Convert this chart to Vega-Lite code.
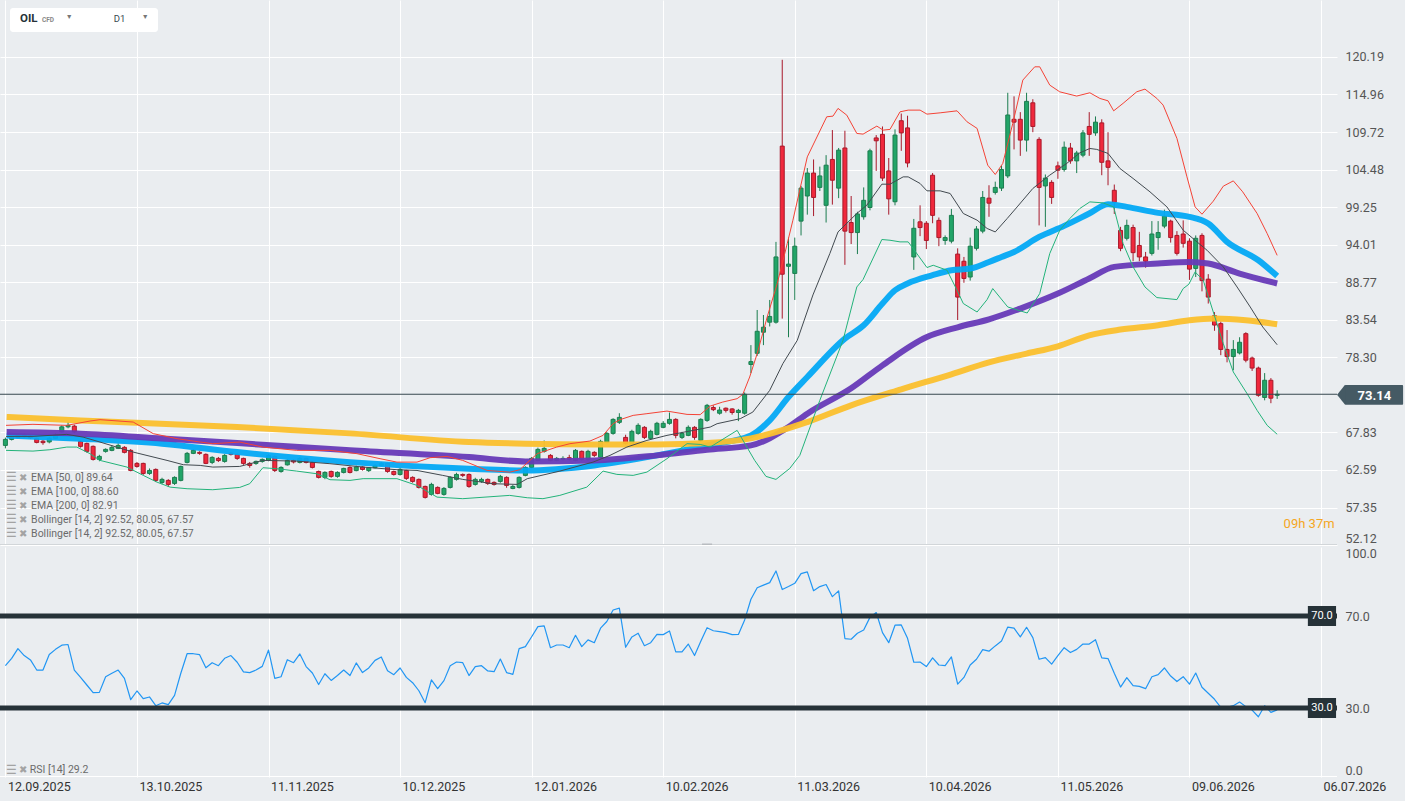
{
"$schema": "https://vega.github.io/schema/vega-lite/v6.json",
"background": "#eaedf0",
"padding": {"left": 0, "top": 0, "right": 1, "bottom": 8},
"autosize": {"type": "pad"},
"config": {"view": {"stroke": null}, "font": "Roboto", "axis": {"labelFont": "Roboto"}, "text": {"font": "Roboto"}, "scale": {"continuousPadding": 0}},
"datasets": {
"candles": [
{"i":0,"o":66.01,"h":67.1,"l":65.6,"c":66.85},{"i":1,"o":66.85,"h":67.3,"l":66.7,"c":67.13},{"i":2,"o":67.1,"h":67.7,"l":67.0,"c":67.5},{"i":3,"o":67.5,"h":67.7,"l":67.1,"c":67.3},{"i":4,"o":67.3,"h":67.5,"l":66.9,"c":67.1},
{"i":5,"o":66.99,"h":67.1,"l":66.3,"c":66.43},{"i":6,"o":66.6,"h":66.8,"l":66.1,"c":66.4},{"i":7,"o":66.5,"h":67.2,"l":66.3,"c":67.0},{"i":8,"o":67.0,"h":67.7,"l":66.9,"c":67.5},{"i":9,"o":67.9,"h":68.8,"l":67.8,"c":68.6},
{"i":10,"o":68.6,"h":69.3,"l":68.4,"c":68.8},{"i":11,"o":68.7,"h":68.9,"l":67.7,"c":67.9},{"i":12,"o":66.57,"h":66.7,"l":65.7,"c":65.88},{"i":13,"o":66.29,"h":66.4,"l":65.0,"c":65.18},{"i":14,"o":65.88,"h":66.0,"l":63.9,"c":64.06},
{"i":15,"o":64.06,"h":64.7,"l":63.8,"c":64.48},{"i":16,"o":65.18,"h":65.6,"l":65.0,"c":65.46},{"i":17,"o":65.32,"h":66.0,"l":65.2,"c":65.74},{"i":18,"o":65.6,"h":66.3,"l":65.5,"c":66.01},{"i":19,"o":65.74,"h":65.9,"l":64.9,"c":65.04},
{"i":20,"o":65.32,"h":65.5,"l":62.4,"c":62.52},{"i":21,"o":63.5,"h":63.7,"l":62.9,"c":63.08},{"i":22,"o":63.5,"h":63.6,"l":61.9,"c":62.1},{"i":23,"o":62.1,"h":62.8,"l":61.9,"c":62.52},{"i":24,"o":62.66,"h":62.8,"l":60.9,"c":61.13},
{"i":25,"o":60.85,"h":61.5,"l":60.6,"c":61.27},{"i":26,"o":61.13,"h":61.3,"l":60.2,"c":60.57},{"i":27,"o":60.71,"h":61.7,"l":60.5,"c":61.55},{"i":28,"o":61.13,"h":63.2,"l":61.0,"c":63.08},{"i":29,"o":63.64,"h":65.1,"l":63.5,"c":64.9},
{"i":30,"o":64.9,"h":65.5,"l":64.8,"c":65.32},{"i":31,"o":65.04,"h":65.2,"l":64.7,"c":64.9},{"i":32,"o":64.76,"h":64.9,"l":63.4,"c":63.5},{"i":33,"o":63.64,"h":64.5,"l":63.4,"c":64.34},{"i":34,"o":64.2,"h":64.4,"l":63.7,"c":63.9},
{"i":35,"o":63.78,"h":64.8,"l":63.6,"c":64.62},{"i":36,"o":64.95,"h":65.1,"l":64.6,"c":64.76},{"i":37,"o":64.76,"h":64.9,"l":64.0,"c":64.2},{"i":38,"o":64.2,"h":64.3,"l":63.3,"c":63.5},{"i":39,"o":63.5,"h":63.7,"l":62.9,"c":63.22},
{"i":40,"o":63.5,"h":63.9,"l":63.3,"c":63.78},{"i":41,"o":63.78,"h":64.2,"l":63.6,"c":64.06},{"i":42,"o":63.92,"h":64.8,"l":63.8,"c":64.6},{"i":43,"o":64.48,"h":64.6,"l":62.3,"c":62.52},{"i":44,"o":62.38,"h":63.1,"l":62.2,"c":62.94},
{"i":45,"o":63.3,"h":64.1,"l":63.2,"c":63.92},{"i":46,"o":63.92,"h":64.1,"l":63.5,"c":63.7},{"i":47,"o":63.64,"h":64.4,"l":63.5,"c":64.2},{"i":48,"o":64.2,"h":64.3,"l":63.5,"c":63.64},{"i":49,"o":63.64,"h":63.8,"l":62.8,"c":62.94},
{"i":50,"o":62.38,"h":62.5,"l":61.4,"c":61.55},{"i":51,"o":61.55,"h":62.4,"l":61.3,"c":62.24},{"i":52,"o":62.38,"h":62.5,"l":61.5,"c":61.69},{"i":53,"o":61.69,"h":62.4,"l":61.5,"c":62.24},{"i":54,"o":62.24,"h":62.9,"l":62.1,"c":62.8},
{"i":55,"o":62.94,"h":63.1,"l":62.1,"c":62.24},{"i":56,"o":62.5,"h":63.2,"l":62.4,"c":63.0},{"i":57,"o":63.0,"h":63.1,"l":62.5,"c":62.66},{"i":58,"o":62.5,"h":63.0,"l":62.3,"c":62.9},{"i":59,"o":62.9,"h":63.4,"l":62.8,"c":63.22},
{"i":60,"o":63.22,"h":63.7,"l":63.1,"c":63.5},{"i":61,"o":63.5,"h":63.6,"l":62.2,"c":62.38},{"i":62,"o":62.38,"h":62.5,"l":61.8,"c":61.96},{"i":63,"o":61.96,"h":62.9,"l":61.8,"c":62.66},{"i":64,"o":62.52,"h":62.6,"l":61.2,"c":61.41},
{"i":65,"o":61.55,"h":61.7,"l":60.8,"c":60.99},{"i":66,"o":61.27,"h":61.4,"l":60.0,"c":60.15},{"i":67,"o":60.29,"h":60.4,"l":58.6,"c":58.76},{"i":68,"o":59.18,"h":60.8,"l":59.0,"c":60.57},{"i":69,"o":60.15,"h":60.3,"l":59.2,"c":59.32},
{"i":70,"o":59.18,"h":60.2,"l":59.0,"c":60.01},{"i":71,"o":60.15,"h":61.7,"l":60.0,"c":61.55},{"i":72,"o":61.27,"h":62.2,"l":61.1,"c":61.96},{"i":73,"o":61.96,"h":62.1,"l":61.6,"c":61.83},{"i":74,"o":61.96,"h":62.1,"l":60.1,"c":60.29},
{"i":75,"o":60.57,"h":61.5,"l":60.4,"c":61.27},{"i":76,"o":60.99,"h":61.5,"l":60.8,"c":61.27},{"i":77,"o":61.27,"h":61.4,"l":60.5,"c":60.71},{"i":78,"o":60.85,"h":61.0,"l":60.4,"c":60.57},{"i":79,"o":60.99,"h":61.9,"l":60.8,"c":61.69},
{"i":80,"o":61.55,"h":61.7,"l":60.1,"c":60.43},{"i":81,"o":60.01,"h":60.5,"l":59.9,"c":60.29},{"i":82,"o":60.15,"h":61.7,"l":60.0,"c":61.55},{"i":83,"o":61.83,"h":63.1,"l":61.7,"c":62.94},{"i":84,"o":62.94,"h":64.4,"l":62.8,"c":64.2},
{"i":85,"o":63.92,"h":65.7,"l":63.8,"c":65.46},{"i":86,"o":65.18,"h":66.7,"l":65.0,"c":65.6},{"i":87,"o":64.62,"h":64.8,"l":63.8,"c":63.92},{"i":88,"o":63.92,"h":64.4,"l":63.8,"c":64.2},{"i":89,"o":64.06,"h":64.5,"l":63.9,"c":64.2},
{"i":90,"o":64.3,"h":64.7,"l":63.9,"c":64.06},{"i":91,"o":63.92,"h":65.5,"l":63.8,"c":65.32},{"i":92,"o":65.18,"h":65.3,"l":63.9,"c":64.06},{"i":93,"o":64.06,"h":65.4,"l":63.9,"c":65.18},{"i":94,"o":65.04,"h":65.2,"l":64.4,"c":64.62},
{"i":95,"o":64.34,"h":66.8,"l":64.2,"c":66.57},{"i":96,"o":66.43,"h":67.9,"l":66.3,"c":67.69},{"i":97,"o":67.69,"h":69.8,"l":67.5,"c":69.64},{"i":98,"o":69.23,"h":70.5,"l":69.0,"c":69.92},{"i":99,"o":67.13,"h":67.5,"l":66.1,"c":66.29},
{"i":100,"o":66.29,"h":68.2,"l":66.1,"c":67.97},{"i":101,"o":67.69,"h":69.1,"l":67.5,"c":68.81},{"i":102,"o":68.53,"h":68.7,"l":66.9,"c":67.13},{"i":103,"o":66.99,"h":68.2,"l":66.8,"c":67.97},{"i":104,"o":67.55,"h":69.3,"l":67.4,"c":69.09},
{"i":105,"o":68.53,"h":69.4,"l":68.4,"c":69.09},{"i":106,"o":69.09,"h":70.6,"l":68.9,"c":69.64},{"i":107,"o":69.64,"h":69.8,"l":67.0,"c":67.41},{"i":108,"o":67.13,"h":67.9,"l":66.9,"c":67.69},{"i":109,"o":67.41,"h":68.8,"l":67.3,"c":68.53},
{"i":110,"o":68.53,"h":68.7,"l":66.8,"c":67.13},{"i":111,"o":66.71,"h":69.8,"l":66.5,"c":69.64},{"i":112,"o":69.5,"h":71.8,"l":69.3,"c":71.6},{"i":113,"o":71.3,"h":71.6,"l":70.8,"c":71.0},{"i":114,"o":70.5,"h":71.4,"l":70.3,"c":70.95},
{"i":115,"o":71.2,"h":71.3,"l":70.6,"c":70.9},{"i":116,"o":71.1,"h":71.2,"l":70.3,"c":70.6},{"i":117,"o":70.6,"h":71.1,"l":69.4,"c":70.9},{"i":118,"o":70.5,"h":73.4,"l":70.3,"c":73.14},{"i":119,"o":77.3,"h":80.0,"l":76.1,"c":77.7},
{"i":120,"o":78.86,"h":84.9,"l":78.5,"c":81.93},{"i":121,"o":81.8,"h":84.2,"l":80.0,"c":82.5},{"i":122,"o":83.2,"h":86.3,"l":82.6,"c":84.0},{"i":123,"o":83.2,"h":94.4,"l":83.0,"c":92.3},{"i":124,"o":107.76,"h":119.8,"l":83.7,"c":89.89},
{"i":125,"o":91.0,"h":95.0,"l":81.1,"c":91.3},{"i":126,"o":90.0,"h":95.0,"l":86.3,"c":93.8},{"i":127,"o":97.3,"h":102.2,"l":95.3,"c":101.9},{"i":128,"o":100.8,"h":104.7,"l":98.2,"c":104.0},{"i":129,"o":104.0,"h":105.9,"l":98.0,"c":100.6},
{"i":130,"o":102.0,"h":104.9,"l":101.5,"c":103.6},{"i":131,"o":99.5,"h":106.5,"l":97.1,"c":105.1},{"i":132,"o":105.9,"h":110.0,"l":99.6,"c":103.0},{"i":133,"o":101.9,"h":107.5,"l":100.5,"c":107.2},{"i":134,"o":107.5,"h":109.9,"l":91.2,"c":95.9},
{"i":135,"o":97.1,"h":100.8,"l":94.1,"c":95.7},{"i":136,"o":95.7,"h":98.6,"l":92.7,"c":98.3},{"i":137,"o":97.9,"h":102.0,"l":97.5,"c":100.2},{"i":138,"o":99.2,"h":107.4,"l":98.8,"c":107.1},{"i":139,"o":108.9,"h":109.3,"l":104.3,"c":108.5},
{"i":140,"o":109.4,"h":110.5,"l":102.9,"c":103.3},{"i":141,"o":104.3,"h":106.1,"l":98.2,"c":100.4},{"i":142,"o":100.0,"h":110.1,"l":99.5,"c":109.3},{"i":143,"o":111.3,"h":112.3,"l":107.1,"c":109.6},{"i":144,"o":110.3,"h":112.0,"l":104.8,"c":105.4},
{"i":145,"o":92.3,"h":97.6,"l":90.5,"c":96.3},{"i":146,"o":97.2,"h":99.5,"l":95.2,"c":96.4},{"i":147,"o":97.0,"h":97.3,"l":93.4,"c":94.6},{"i":148,"o":103.7,"h":104.0,"l":97.0,"c":98.1},{"i":149,"o":97.4,"h":97.8,"l":93.8,"c":95.0},
{"i":150,"o":94.6,"h":95.3,"l":94.0,"c":95.0},{"i":151,"o":94.5,"h":99.0,"l":94.2,"c":98.1},{"i":152,"o":92.7,"h":93.5,"l":83.5,"c":86.7},{"i":153,"o":91.7,"h":92.3,"l":88.7,"c":89.3},{"i":154,"o":89.5,"h":95.0,"l":89.0,"c":93.8},
{"i":155,"o":93.5,"h":96.6,"l":93.2,"c":96.2},{"i":156,"o":95.9,"h":101.5,"l":95.6,"c":100.6},{"i":157,"o":100.5,"h":102.3,"l":97.9,"c":99.8},{"i":158,"o":101.3,"h":102.8,"l":101.0,"c":102.0},{"i":159,"o":101.9,"h":105.0,"l":101.5,"c":104.5},
{"i":160,"o":103.6,"h":115.2,"l":103.3,"c":112.1},{"i":161,"o":111.5,"h":114.7,"l":107.3,"c":111.1},{"i":162,"o":111.5,"h":112.5,"l":106.4,"c":108.6},{"i":163,"o":108.6,"h":115.2,"l":107.0,"c":114.0},{"i":164,"o":113.8,"h":114.3,"l":109.7,"c":110.5},
{"i":165,"o":108.7,"h":109.0,"l":96.7,"c":102.0},{"i":166,"o":102.2,"h":103.8,"l":96.5,"c":103.3},{"i":167,"o":102.7,"h":103.0,"l":99.7,"c":100.6},{"i":168,"o":105.0,"h":105.6,"l":103.2,"c":104.4},{"i":169,"o":104.5,"h":108.4,"l":104.2,"c":107.6},
{"i":170,"o":107.5,"h":108.2,"l":105.3,"c":105.7},{"i":171,"o":105.7,"h":107.1,"l":104.0,"c":106.8},{"i":172,"o":106.5,"h":110.0,"l":106.2,"c":109.6},{"i":173,"o":110.5,"h":112.5,"l":106.4,"c":109.4},{"i":174,"o":109.6,"h":111.9,"l":109.2,"c":111.1},
{"i":175,"o":111.0,"h":111.5,"l":103.7,"c":105.5},{"i":176,"o":105.7,"h":109.7,"l":102.3,"c":104.8},{"i":177,"o":101.6,"h":102.4,"l":98.3,"c":99.9},{"i":178,"o":96.0,"h":96.5,"l":93.1,"c":93.5},{"i":179,"o":94.9,"h":97.5,"l":94.6,"c":96.7},
{"i":180,"o":96.4,"h":96.8,"l":91.7,"c":92.9},{"i":181,"o":93.9,"h":95.8,"l":91.7,"c":92.3},{"i":182,"o":92.3,"h":93.0,"l":90.8,"c":91.7},{"i":183,"o":92.8,"h":97.3,"l":92.5,"c":95.5},{"i":184,"o":95.0,"h":97.3,"l":93.3,"c":95.7},
{"i":185,"o":96.6,"h":98.9,"l":96.3,"c":98.0},{"i":186,"o":97.3,"h":97.5,"l":94.3,"c":95.0},{"i":187,"o":95.3,"h":95.9,"l":92.5,"c":92.8},{"i":188,"o":95.5,"h":97.4,"l":93.6,"c":94.2},{"i":189,"o":94.5,"h":94.9,"l":89.1,"c":90.6},
{"i":190,"o":90.7,"h":95.3,"l":89.5,"c":94.9},{"i":191,"o":95.3,"h":95.6,"l":87.5,"c":89.0},{"i":192,"o":89.2,"h":89.9,"l":85.8,"c":86.7},{"i":193,"o":84.1,"h":84.6,"l":82.0,"c":82.8},{"i":194,"o":83.0,"h":83.3,"l":78.6,"c":79.4},
{"i":195,"o":79.4,"h":82.1,"l":77.6,"c":78.4},{"i":196,"o":78.4,"h":80.7,"l":76.5,"c":79.4},{"i":197,"o":78.9,"h":81.1,"l":78.7,"c":80.4},{"i":198,"o":81.6,"h":81.8,"l":77.6,"c":77.9},{"i":199,"o":78.2,"h":78.4,"l":76.4,"c":76.8},
{"i":200,"o":76.8,"h":77.0,"l":72.8,"c":73.0},{"i":201,"o":72.7,"h":76.1,"l":72.3,"c":75.1},{"i":202,"o":75.1,"h":75.4,"l":71.9,"c":72.6},{"i":203,"o":73.0,"h":73.7,"l":72.5,"c":73.14}
],
"lines": [
{"s":"e200","i":0.2,"v":69.97},{"s":"e200","i":12,"v":69.5},{"s":"e200","i":37,"v":68.57},{"s":"e200","i":55,"v":67.69},{"s":"e200","i":74,"v":66.48},{"s":"e200","i":83,"v":66.25},{"s":"e200","i":94,"v":66.15},{"s":"e200","i":104,"v":66.15},{"s":"e200","i":112,"v":66.34},{"s":"e200","i":119,"v":66.99},{"s":"e200","i":128,"v":69.27},{"s":"e200","i":135,"v":71.6},{"s":"e200","i":143,"v":73.83},{"s":"e200","i":151,"v":75.93},{"s":"e200","i":157,"v":77.6},{"s":"e200","i":163,"v":78.82},{"s":"e200","i":168,"v":79.84},{"s":"e200","i":173,"v":81.37},{"s":"e200","i":178,"v":82.17},{"s":"e200","i":184,"v":82.77},{"s":"e200","i":189,"v":83.47},{"s":"e200","i":193,"v":83.7},{"s":"e200","i":198,"v":83.47},{"s":"e200","i":203,"v":82.91},
{"s":"e100","i":0.2,"v":67.87},{"s":"e100","i":12,"v":67.65},{"s":"e100","i":25,"v":66.99},{"s":"e100","i":37,"v":66.34},{"s":"e100","i":55,"v":65.32},{"s":"e100","i":74,"v":64.38},{"s":"e100","i":83,"v":63.78},{"s":"e100","i":94,"v":63.92},{"s":"e100","i":104,"v":64.62},{"s":"e100","i":112,"v":65.41},{"s":"e100","i":119,"v":66.01},{"s":"e100","i":125,"v":68.57},{"s":"e100","i":128,"v":70.44},{"s":"e100","i":135,"v":73.97},{"s":"e100","i":140,"v":77.18},{"s":"e100","i":147,"v":81.09},{"s":"e100","i":152,"v":82.49},{"s":"e100","i":157,"v":83.6},{"s":"e100","i":162,"v":85.1},{"s":"e100","i":168,"v":87.19},{"s":"e100","i":173,"v":89.29},{"s":"e100","i":177,"v":90.91},{"s":"e100","i":184,"v":91.38},{"s":"e100","i":189,"v":91.6},{"s":"e100","i":192,"v":91.38},{"s":"e100","i":197,"v":89.98},{"s":"e100","i":203,"v":88.6},
{"s":"e50","i":0.2,"v":67.41},{"s":"e50","i":12,"v":66.95},{"s":"e50","i":25,"v":66.25},{"s":"e50","i":37,"v":65.08},{"s":"e50","i":55,"v":63.68},{"s":"e50","i":74,"v":62.76},{"s":"e50","i":83,"v":62.52},{"s":"e50","i":94,"v":63.22},{"s":"e50","i":104,"v":64.62},{"s":"e50","i":112,"v":66.01},{"s":"e50","i":119,"v":67.41},{"s":"e50","i":122,"v":69.5},{"s":"e50","i":125,"v":72.76},{"s":"e50","i":128,"v":75.55},{"s":"e50","i":134,"v":80.91},{"s":"e50","i":137,"v":82.77},{"s":"e50","i":140,"v":85.8},{"s":"e50","i":142,"v":87.65},{"s":"e50","i":144,"v":88.59},{"s":"e50","i":148,"v":89.75},{"s":"e50","i":151,"v":90.45},{"s":"e50","i":154,"v":90.68},{"s":"e50","i":157,"v":91.6},{"s":"e50","i":159,"v":92.3},{"s":"e50","i":161,"v":93.0},{"s":"e50","i":165,"v":95.09},{"s":"e50","i":169,"v":96.63},{"s":"e50","i":173,"v":98.36},{"s":"e50","i":176,"v":99.66},{"s":"e50","i":179,"v":99.28},{"s":"e50","i":184,"v":98.45},{"s":"e50","i":189,"v":97.89},{"s":"e50","i":192,"v":96.96},{"s":"e50","i":195,"v":94.4},{"s":"e50","i":200,"v":91.84},{"s":"e50","i":203,"v":89.64},
{"s":"bbu","i":0.1,"v":68.81},{"s":"bbu","i":4.4,"v":68.95},{"s":"bbu","i":9.8,"v":68.81},{"s":"bbu","i":13.5,"v":69.41},{"s":"bbu","i":15.1,"v":69.6},{"s":"bbu","i":20.4,"v":69.27},{"s":"bbu","i":23.6,"v":67.65},{"s":"bbu","i":27.4,"v":66.95},{"s":"bbu","i":31.1,"v":66.48},{"s":"bbu","i":33.1,"v":66.25},{"s":"bbu","i":37.4,"v":66.48},{"s":"bbu","i":41.1,"v":65.78},{"s":"bbu","i":46.5,"v":65.32},{"s":"bbu","i":51.8,"v":65.32},{"s":"bbu","i":56.1,"v":64.86},{"s":"bbu","i":59.8,"v":64.16},{"s":"bbu","i":62.5,"v":63.68},{"s":"bbu","i":65.7,"v":63.68},{"s":"bbu","i":67.8,"v":64.3},{"s":"bbu","i":70.5,"v":64.48},{"s":"bbu","i":73.0,"v":63.92},{"s":"bbu","i":76.9,"v":62.52},{"s":"bbu","i":80.5,"v":62.28},{"s":"bbu","i":82.1,"v":62.62},{"s":"bbu","i":84.9,"v":64.86},{"s":"bbu","i":88.0,"v":65.78},{"s":"bbu","i":90.1,"v":66.25},{"s":"bbu","i":93.3,"v":66.62},{"s":"bbu","i":95.4,"v":67.41},{"s":"bbu","i":97.0,"v":69.04},{"s":"bbu","i":98.1,"v":69.6},{"s":"bbu","i":100.2,"v":70.2},{"s":"bbu","i":102.4,"v":70.44},{"s":"bbu","i":105.6,"v":70.8},{"s":"bbu","i":108.8,"v":70.34},{"s":"bbu","i":110.9,"v":70.3},{"s":"bbu","i":112.5,"v":71.5},{"s":"bbu","i":114.5,"v":72.06},{"s":"bbu","i":116.8,"v":72.53},{"s":"bbu","i":117.7,"v":73.13},{"s":"bbu","i":118.8,"v":75.55},{"s":"bbu","i":120.0,"v":78.82},{"s":"bbu","i":121.6,"v":83.93},{"s":"bbu","i":123.2,"v":88.59},{"s":"bbu","i":124.8,"v":94.17},{"s":"bbu","i":125.7,"v":97.42},{"s":"bbu","i":128.0,"v":106.26},{"s":"bbu","i":131.1,"v":111.85},{"s":"bbu","i":132.1,"v":111.94},{"s":"bbu","i":132.9,"v":113.02},{"s":"bbu","i":134.3,"v":112.08},{"s":"bbu","i":135.9,"v":109.53},{"s":"bbu","i":136.9,"v":109.43},{"s":"bbu","i":139.1,"v":110.55},{"s":"bbu","i":140.1,"v":109.99},{"s":"bbu","i":141.2,"v":110.09},{"s":"bbu","i":142.8,"v":112.54},{"s":"bbu","i":144.1,"v":112.78},{"s":"bbu","i":146.0,"v":112.78},{"s":"bbu","i":147.1,"v":112.22},{"s":"bbu","i":149.2,"v":112.4},{"s":"bbu","i":151.9,"v":112.68},{"s":"bbu","i":153.5,"v":111.15},{"s":"bbu","i":155.1,"v":110.23},{"s":"bbu","i":156.8,"v":105.1},{"s":"bbu","i":158.0,"v":103.8},{"s":"bbu","i":159.2,"v":105.34},{"s":"bbu","i":160.8,"v":110.92},{"s":"bbu","i":162.4,"v":116.97},{"s":"bbu","i":164.3,"v":118.82},{"s":"bbu","i":165.1,"v":118.82},{"s":"bbu","i":166.7,"v":116.27},{"s":"bbu","i":168.3,"v":115.33},{"s":"bbu","i":171.0,"v":114.74},{"s":"bbu","i":173.1,"v":115.2},{"s":"bbu","i":174.7,"v":114.41},{"s":"bbu","i":176.0,"v":114.08},{"s":"bbu","i":176.9,"v":112.68},{"s":"bbu","i":178.4,"v":113.72},{"s":"bbu","i":180.6,"v":115.34},{"s":"bbu","i":181.9,"v":115.71},{"s":"bbu","i":183.8,"v":114.41},{"s":"bbu","i":184.8,"v":113.48},{"s":"bbu","i":187.0,"v":108.83},{"s":"bbu","i":188.6,"v":103.47},{"s":"bbu","i":189.9,"v":99.28},{"s":"bbu","i":191.0,"v":98.26},{"s":"bbu","i":192.8,"v":100.08},{"s":"bbu","i":194.4,"v":102.17},{"s":"bbu","i":196.0,"v":102.91},{"s":"bbu","i":197.5,"v":101.38},{"s":"bbu","i":199.8,"v":98.36},{"s":"bbu","i":201.4,"v":95.57},{"s":"bbu","i":203.0,"v":92.52},
{"s":"bbm","i":0.1,"v":67.27},{"s":"bbm","i":4.4,"v":67.27},{"s":"bbm","i":9.8,"v":67.55},{"s":"bbm","i":12.4,"v":67.17},{"s":"bbm","i":15.1,"v":66.48},{"s":"bbm","i":20.4,"v":65.08},{"s":"bbm","i":25.8,"v":63.92},{"s":"bbm","i":28.4,"v":63.32},{"s":"bbm","i":31.1,"v":63.22},{"s":"bbm","i":33.1,"v":62.99},{"s":"bbm","i":37.4,"v":63.08},{"s":"bbm","i":41.1,"v":63.92},{"s":"bbm","i":46.5,"v":63.82},{"s":"bbm","i":51.8,"v":63.46},{"s":"bbm","i":57.1,"v":62.99},{"s":"bbm","i":62.5,"v":62.62},{"s":"bbm","i":65.7,"v":62.52},{"s":"bbm","i":69.8,"v":61.83},{"s":"bbm","i":73.0,"v":61.27},{"s":"bbm","i":77.8,"v":60.67},{"s":"bbm","i":81.7,"v":60.57},{"s":"bbm","i":83.3,"v":61.37},{"s":"bbm","i":88.5,"v":62.43},{"s":"bbm","i":93.8,"v":63.68},{"s":"bbm","i":96.5,"v":64.62},{"s":"bbm","i":99.2,"v":65.78},{"s":"bbm","i":102.4,"v":66.71},{"s":"bbm","i":105.6,"v":67.41},{"s":"bbm","i":109.8,"v":68.11},{"s":"bbm","i":112.5,"v":68.57},{"s":"bbm","i":113.6,"v":69.04},{"s":"bbm","i":117.3,"v":69.74},{"s":"bbm","i":119.3,"v":70.66},{"s":"bbm","i":122.0,"v":73.69},{"s":"bbm","i":124.1,"v":77.42},{"s":"bbm","i":126.4,"v":80.67},{"s":"bbm","i":128.9,"v":87.0},{"s":"bbm","i":131.6,"v":92.78},{"s":"bbm","i":132.9,"v":95.79},{"s":"bbm","i":135.9,"v":98.36},{"s":"bbm","i":137.5,"v":99.52},{"s":"bbm","i":139.9,"v":102.45},{"s":"bbm","i":141.2,"v":102.45},{"s":"bbm","i":143.3,"v":103.47},{"s":"bbm","i":144.1,"v":103.47},{"s":"bbm","i":146.0,"v":102.55},{"s":"bbm","i":147.1,"v":101.52},{"s":"bbm","i":149.2,"v":101.52},{"s":"bbm","i":150.8,"v":101.15},{"s":"bbm","i":152.9,"v":98.36},{"s":"bbm","i":155.1,"v":97.43},{"s":"bbm","i":156.7,"v":96.27},{"s":"bbm","i":158.0,"v":95.79},{"s":"bbm","i":159.9,"v":97.66},{"s":"bbm","i":161.5,"v":99.28},{"s":"bbm","i":164.0,"v":101.85},{"s":"bbm","i":166.7,"v":103.71},{"s":"bbm","i":169.4,"v":105.34},{"s":"bbm","i":171.5,"v":106.82},{"s":"bbm","i":173.1,"v":107.43},{"s":"bbm","i":174.2,"v":107.3},{"s":"bbm","i":176.0,"v":106.74},{"s":"bbm","i":177.9,"v":104.64},{"s":"bbm","i":180.0,"v":103.25},{"s":"bbm","i":182.7,"v":101.38},{"s":"bbm","i":185.4,"v":99.28},{"s":"bbm","i":188.0,"v":96.03},{"s":"bbm","i":190.2,"v":94.4},{"s":"bbm","i":191.8,"v":93.24},{"s":"bbm","i":194.4,"v":90.91},{"s":"bbm","i":196.6,"v":88.11},{"s":"bbm","i":198.7,"v":85.32},{"s":"bbm","i":200.7,"v":82.53},{"s":"bbm","i":203.0,"v":80.05},
{"s":"bbl","i":0.1,"v":65.32},{"s":"bbl","i":4.4,"v":65.22},{"s":"bbl","i":7.1,"v":65.41},{"s":"bbl","i":9.8,"v":65.78},{"s":"bbl","i":11.4,"v":65.78},{"s":"bbl","i":13.5,"v":64.86},{"s":"bbl","i":15.1,"v":63.92},{"s":"bbl","i":19.4,"v":62.99},{"s":"bbl","i":22.0,"v":61.83},{"s":"bbl","i":24.2,"v":60.89},{"s":"bbl","i":26.3,"v":60.19},{"s":"bbl","i":29.0,"v":59.97},{"s":"bbl","i":33.1,"v":59.83},{"s":"bbl","i":37.4,"v":60.15},{"s":"bbl","i":39.0,"v":60.67},{"s":"bbl","i":41.1,"v":62.9},{"s":"bbl","i":43.3,"v":62.76},{"s":"bbl","i":46.5,"v":62.43},{"s":"bbl","i":49.7,"v":62.06},{"s":"bbl","i":51.8,"v":61.23},{"s":"bbl","i":55.0,"v":61.13},{"s":"bbl","i":57.1,"v":61.37},{"s":"bbl","i":62.5,"v":61.37},{"s":"bbl","i":65.7,"v":60.43},{"s":"bbl","i":68.9,"v":58.8},{"s":"bbl","i":73.0,"v":58.58},{"s":"bbl","i":80.5,"v":59.04},{"s":"bbl","i":83.3,"v":58.71},{"s":"bbl","i":85.8,"v":58.58},{"s":"bbl","i":88.5,"v":59.04},{"s":"bbl","i":92.8,"v":60.19},{"s":"bbl","i":95.4,"v":62.43},{"s":"bbl","i":97.6,"v":61.97},{"s":"bbl","i":100.2,"v":61.83},{"s":"bbl","i":102.4,"v":62.29},{"s":"bbl","i":105.6,"v":64.16},{"s":"bbl","i":108.8,"v":66.25},{"s":"bbl","i":110.9,"v":66.15},{"s":"bbl","i":112.5,"v":65.78},{"s":"bbl","i":116.8,"v":68.11},{"s":"bbl","i":119.6,"v":63.92},{"s":"bbl","i":121.4,"v":61.69},{"s":"bbl","i":123.0,"v":61.27},{"s":"bbl","i":125.2,"v":62.8},{"s":"bbl","i":126.8,"v":64.62},{"s":"bbl","i":130.0,"v":72.3},{"s":"bbl","i":133.7,"v":80.67},{"s":"bbl","i":135.9,"v":88.11},{"s":"bbl","i":136.9,"v":89.15},{"s":"bbl","i":139.9,"v":94.73},{"s":"bbl","i":141.2,"v":94.63},{"s":"bbl","i":142.8,"v":94.4},{"s":"bbl","i":144.1,"v":94.4},{"s":"bbl","i":144.9,"v":93.47},{"s":"bbl","i":147.1,"v":90.82},{"s":"bbl","i":148.1,"v":91.14},{"s":"bbl","i":150.3,"v":90.45},{"s":"bbl","i":151.9,"v":87.65},{"s":"bbl","i":152.9,"v":85.8},{"s":"bbl","i":155.1,"v":84.62},{"s":"bbl","i":156.7,"v":86.35},{"s":"bbl","i":157.6,"v":87.89},{"s":"bbl","i":160.0,"v":85.32},{"s":"bbl","i":163.1,"v":84.48},{"s":"bbl","i":165.1,"v":87.19},{"s":"bbl","i":166.7,"v":92.78},{"s":"bbl","i":168.3,"v":96.03},{"s":"bbl","i":169.9,"v":97.66},{"s":"bbl","i":171.5,"v":99.06},{"s":"bbl","i":173.1,"v":99.98},{"s":"bbl","i":175.2,"v":99.84},{"s":"bbl","i":176.9,"v":99.28},{"s":"bbl","i":178.4,"v":94.17},{"s":"bbl","i":180.0,"v":90.91},{"s":"bbl","i":181.9,"v":88.11},{"s":"bbl","i":183.8,"v":86.63},{"s":"bbl","i":187.0,"v":86.35},{"s":"bbl","i":188.0,"v":87.89},{"s":"bbl","i":188.9,"v":88.49},{"s":"bbl","i":189.9,"v":90.21},{"s":"bbl","i":191.2,"v":89.05},{"s":"bbl","i":192.8,"v":84.62},{"s":"bbl","i":194.4,"v":80.21},{"s":"bbl","i":196.0,"v":76.25},{"s":"bbl","i":198.2,"v":73.23},{"s":"bbl","i":199.8,"v":70.9},{"s":"bbl","i":201.4,"v":68.81},{"s":"bbl","i":203.0,"v":67.57}
],
"rsi": [
{"i":0,"r":48.4},{"i":1,"r":51.6},{"i":2,"r":55.8},{"i":3,"r":52.8},{"i":4,"r":50.9},{"i":5,"r":46.5},{"i":6,"r":46.5},{"i":7,"r":53.3},{"i":8,"r":55.5},{"i":9,"r":57.3},
{"i":10,"r":57.6},{"i":11,"r":46.5},{"i":12,"r":43.3},{"i":13,"r":40.0},{"i":14,"r":36.7},{"i":15,"r":36.8},{"i":16,"r":43.6},{"i":17,"r":45.1},{"i":18,"r":46.5},{"i":19,"r":42.9},
{"i":20,"r":33.6},{"i":21,"r":37.4},{"i":22,"r":34.1},{"i":23,"r":34.8},{"i":24,"r":31.0},{"i":25,"r":32.2},{"i":26,"r":31.5},{"i":27,"r":35.5},{"i":28,"r":45.1},{"i":29,"r":53.6},
{"i":30,"r":53.6},{"i":31,"r":53.2},{"i":32,"r":47.5},{"i":33,"r":49.7},{"i":34,"r":48.4},{"i":35,"r":51.6},{"i":36,"r":52.8},{"i":37,"r":49.9},{"i":38,"r":45.7},{"i":39,"r":45.4},
{"i":40,"r":46.5},{"i":41,"r":48.1},{"i":42,"r":55.2},{"i":43,"r":42.9},{"i":44,"r":43.6},{"i":45,"r":51.0},{"i":46,"r":49.7},{"i":47,"r":53.5},{"i":48,"r":48.0},{"i":49,"r":45.2},
{"i":50,"r":40.2},{"i":51,"r":44.9},{"i":52,"r":42.0},{"i":53,"r":44.1},{"i":54,"r":46.5},{"i":55,"r":44.1},{"i":56,"r":49.6},{"i":57,"r":45.4},{"i":58,"r":47.4},{"i":59,"r":50.7},
{"i":60,"r":52.2},{"i":61,"r":46.2},{"i":62,"r":44.5},{"i":63,"r":47.4},{"i":64,"r":43.3},{"i":65,"r":41.0},{"i":66,"r":37.5},{"i":67,"r":32.3},{"i":68,"r":42.2},{"i":69,"r":38.4},
{"i":70,"r":41.9},{"i":71,"r":48.4},{"i":72,"r":50.0},{"i":73,"r":49.7},{"i":74,"r":44.1},{"i":75,"r":48.0},{"i":76,"r":48.4},{"i":77,"r":46.1},{"i":78,"r":45.8},{"i":79,"r":51.3},
{"i":80,"r":45.4},{"i":81,"r":44.6},{"i":82,"r":55.8},{"i":83,"r":56.7},{"i":84,"r":61.0},{"i":85,"r":65.4},{"i":86,"r":65.7},{"i":87,"r":56.2},{"i":88,"r":57.4},{"i":89,"r":57.4},
{"i":90,"r":56.2},{"i":91,"r":61.6},{"i":92,"r":56.7},{"i":93,"r":59.6},{"i":94,"r":58.4},{"i":95,"r":64.7},{"i":96,"r":67.6},{"i":97,"r":72.6},{"i":98,"r":73.4},{"i":99,"r":56.4},
{"i":100,"r":60.9},{"i":101,"r":62.5},{"i":102,"r":57.1},{"i":103,"r":58.4},{"i":104,"r":62.0},{"i":105,"r":61.9},{"i":106,"r":63.5},{"i":107,"r":54.4},{"i":108,"r":54.4},{"i":109,"r":57.8},
{"i":110,"r":52.8},{"i":111,"r":59.0},{"i":112,"r":64.9},{"i":113,"r":63.6},{"i":114,"r":63.2},{"i":115,"r":62.8},{"i":116,"r":61.9},{"i":117,"r":62.0},{"i":118,"r":68.3},{"i":119,"r":77.3},
{"i":120,"r":82.3},{"i":121,"r":83.4},{"i":122,"r":84.5},{"i":123,"r":89.6},{"i":124,"r":81.5},{"i":125,"r":82.8},{"i":126,"r":84.2},{"i":127,"r":88.4},{"i":128,"r":89.2},{"i":129,"r":81.0},
{"i":130,"r":82.8},{"i":131,"r":83.7},{"i":132,"r":78.4},{"i":133,"r":80.9},{"i":134,"r":60.2},{"i":135,"r":59.9},{"i":136,"r":62.5},{"i":137,"r":63.9},{"i":138,"r":69.4},{"i":139,"r":71.5},
{"i":140,"r":62.8},{"i":141,"r":58.4},{"i":142,"r":66.0},{"i":143,"r":66.1},{"i":144,"r":60.3},{"i":145,"r":49.9},{"i":146,"r":50.0},{"i":147,"r":48.0},{"i":148,"r":51.8},{"i":149,"r":48.7},
{"i":150,"r":48.4},{"i":151,"r":52.2},{"i":152,"r":40.4},{"i":153,"r":43.3},{"i":154,"r":48.7},{"i":155,"r":51.2},{"i":156,"r":55.4},{"i":157,"r":54.7},{"i":158,"r":57.0},{"i":159,"r":59.1},
{"i":160,"r":65.2},{"i":161,"r":64.7},{"i":162,"r":60.9},{"i":163,"r":65.1},{"i":164,"r":60.6},{"i":165,"r":51.2},{"i":166,"r":51.9},{"i":167,"r":49.1},{"i":168,"r":52.8},{"i":169,"r":56.2},
{"i":170,"r":54.1},{"i":171,"r":55.5},{"i":172,"r":57.8},{"i":173,"r":57.8},{"i":174,"r":59.7},{"i":175,"r":51.8},{"i":176,"r":51.5},{"i":177,"r":45.1},{"i":178,"r":39.1},{"i":179,"r":43.2},
{"i":180,"r":39.7},{"i":181,"r":39.4},{"i":182,"r":38.4},{"i":183,"r":43.6},{"i":184,"r":44.5},{"i":185,"r":47.4},{"i":186,"r":43.9},{"i":187,"r":41.5},{"i":188,"r":43.6},{"i":189,"r":40.4},
{"i":190,"r":45.2},{"i":191,"r":39.0},{"i":192,"r":36.4},{"i":193,"r":33.8},{"i":194,"r":30.3},{"i":195,"r":30.3},{"i":196,"r":31.0},{"i":197,"r":32.6},{"i":198,"r":30.6},{"i":199,"r":29.1},
{"i":200,"r":26.2},{"i":201,"r":31.0},{"i":202,"r":28.1},{"i":203,"r":29.2}
]
},
"resolve": {"scale": {"x": "independent", "y": "independent"}},
"spacing": 2,
"vconcat": [
{
"width": 1337, "height": 545,
"layer": [
{"data": {"name": "candles"}, "mark": {"type": "rule", "strokeWidth": 1},
 "encoding": {
  "x": {"field": "i", "type": "quantitative", "scale": {"domain": [-0.862, 212.55], "nice": false, "zero": false, "padding": 0},
        "axis": {"values": [0,21,42,63,84,105,126,147,168,189,210], "grid": true, "gridColor": "#ffffff", "gridWidth": 1, "labels": false, "ticks": false, "domain": false, "title": null}},
  "y": {"field": "l", "type": "quantitative", "scale": {"domain": [52.12, 128.14], "nice": false, "zero": false, "padding": 0},
        "axis": {"orient": "right", "values": [52.12,57.35,62.59,67.83,78.30,83.54,88.77,94.01,99.25,104.48,109.72,114.96,120.19], "format": ".2f", "grid": true, "gridColor": "#ffffff", "gridWidth": 1, "ticks": false, "domain": false, "labelPadding": 8, "labelColor": "#555555", "labelFontSize": 12.5, "labelFlush": true, "title": null}},
  "y2": {"field": "h"},
  "color": {"condition": {"test": "datum.c >= datum.o", "value": "#1b7d4f"}, "value": "#a8192a"}
 }},
{"data": {"name": "candles"}, "mark": {"type": "bar", "width": 4, "strokeWidth": 1},
 "encoding": {
  "x": {"field": "i", "type": "quantitative"},
  "y": {"field": "o", "type": "quantitative"},
  "y2": {"field": "c"},
  "fill": {"condition": {"test": "datum.c >= datum.o", "value": "#22a568"}, "value": "#f0283c"},
  "stroke": {"condition": {"test": "datum.c >= datum.o", "value": "#1b7d4f"}, "value": "#a8192a"}
 }},
{"data": {"name": "lines"}, "transform": [{"filter": "datum.s == 'e50'"}], "mark": {"type": "line", "color": "#03a9f4", "strokeWidth": 6, "strokeJoin": "round", "strokeCap": "butt", "interpolate": "monotone", "opacity": 0.95},
 "encoding": {"x": {"field": "i", "type": "quantitative"}, "y": {"field": "v", "type": "quantitative"}}},
{"data": {"name": "lines"}, "transform": [{"filter": "datum.s == 'e100'"}], "mark": {"type": "line", "color": "#673ab7", "strokeWidth": 6, "strokeJoin": "round", "strokeCap": "butt", "interpolate": "monotone", "opacity": 0.95},
 "encoding": {"x": {"field": "i", "type": "quantitative"}, "y": {"field": "v", "type": "quantitative"}}},
{"data": {"name": "lines"}, "transform": [{"filter": "datum.s == 'e200'"}], "mark": {"type": "line", "color": "#fbc02d", "strokeWidth": 6, "strokeJoin": "round", "strokeCap": "butt", "interpolate": "monotone", "opacity": 0.95},
 "encoding": {"x": {"field": "i", "type": "quantitative"}, "y": {"field": "v", "type": "quantitative"}}},
{"data": {"name": "lines"}, "transform": [{"filter": "datum.s == 'bbu'"}], "mark": {"type": "line", "color": "#f44336", "strokeWidth": 1, "strokeJoin": "round"},
 "encoding": {"x": {"field": "i", "type": "quantitative"}, "y": {"field": "v", "type": "quantitative"}}},
{"data": {"name": "lines"}, "transform": [{"filter": "datum.s == 'bbm'"}], "mark": {"type": "line", "color": "#424a50", "strokeWidth": 1, "strokeJoin": "round"},
 "encoding": {"x": {"field": "i", "type": "quantitative"}, "y": {"field": "v", "type": "quantitative"}}},
{"data": {"name": "lines"}, "transform": [{"filter": "datum.s == 'bbl'"}], "mark": {"type": "line", "color": "#23b37a", "strokeWidth": 1, "strokeJoin": "round"},
 "encoding": {"x": {"field": "i", "type": "quantitative"}, "y": {"field": "v", "type": "quantitative"}}},
{"data": {"values": [{}]}, "mark": {"type": "rect", "color": "#37474f"},
 "encoding": {"x": {"datum": -0.862}, "x2": {"datum": 212.55}, "y": {"datum": 73.07}, "y2": {"datum": 73.21}}},
{"data": {"values": [{}]}, "mark": {"type": "rect", "color": "#d2d6d9"},
 "encoding": {"x": {"datum": -0.862}, "x2": {"datum": 212.55}, "y": {"datum": 52.12}, "y2": {"datum": 52.26}}},
{"data": {"values": [{}]}, "mark": {"type": "rect", "color": "#b8bcc0"},
 "encoding": {"x": {"datum": 111.2}, "x2": {"datum": 112.8}, "y": {"datum": 52.12}, "y2": {"datum": 52.33}}},
{"data": {"values": [{}]}, "mark": {"type": "rect", "color": "#455a64", "cornerRadius": 1},
 "encoding": {"x": {"datum": 213.8}, "x2": {"datum": 223.1}, "y": {"datum": 71.69}, "y2": {"datum": 74.45}}},
{"data": {"values": [{}]}, "mark": {"type": "point", "shape": "M -0.4 0 L 0.4 -1 L 0.4 1 Z", "filled": true, "size": 400, "color": "#455a64", "opacity": 1},
 "encoding": {"x": {"datum": 213.2}, "y": {"datum": 73.07}}},
{"data": {"values": [{}]}, "mark": {"type": "text", "text": "73.14", "color": "#ffffff", "fontSize": 13, "fontWeight": "bold", "align": "center", "baseline": "middle"},
 "encoding": {"x": {"datum": 218.5}, "y": {"datum": 72.95}}},
{"data": {"values": [{}]}, "mark": {"type": "text", "text": "09h 37m", "color": "#f5a623", "fontSize": 13, "align": "center", "baseline": "middle"},
 "encoding": {"x": {"datum": 208.1}, "y": {"datum": 55.05}}},
{"data": {"values": [{}]}, "mark": {"type": "text", "text": ["☰", "☰", "☰", "☰", "☰"], "color": "#a3a3a3", "fontSize": 12, "lineHeight": 14, "align": "left", "baseline": "top"},
 "encoding": {"x": {"datum": 0.1}, "y": {"datum": 62.35}}},
{"data": {"values": [{}]}, "mark": {"type": "text", "text": ["✖", "✖", "✖", "✖", "✖"], "color": "#a3a3a3", "fontSize": 10, "lineHeight": 14, "align": "left", "baseline": "top"},
 "encoding": {"x": {"datum": 2.25}, "y": {"datum": 62.2}}},
{"data": {"values": [{}]}, "mark": {"type": "text", "text": ["EMA [50, 0] 89.64", "EMA [100, 0] 88.60", "EMA [200, 0] 82.91", "Bollinger [14, 2] 92.52, 80.05, 67.57", "Bollinger [14, 2] 92.52, 80.05, 67.57"], "color": "#6b6b6b", "fontSize": 10.5, "lineHeight": 14, "align": "left", "baseline": "top"},
 "encoding": {"x": {"datum": 4.1}, "y": {"datum": 62.15}}},
{"data": {"values": [{}]}, "mark": {"type": "rect", "color": "#ffffff", "cornerRadius": 3},
 "encoding": {"x": {"datum": 0.73}, "x2": {"datum": 24.36}, "y": {"datum": 127.02}, "y2": {"datum": 123.68}}},
{"data": {"values": [{}]}, "mark": {"type": "text", "text": "OIL", "color": "#263238", "fontSize": 11.5, "fontWeight": "bold", "align": "left", "baseline": "middle"},
 "encoding": {"x": {"datum": 2.33}, "y": {"datum": 125.5}}},
{"data": {"values": [{}]}, "mark": {"type": "text", "text": "CFD", "color": "#888888", "fontSize": 6.5, "fontWeight": "bold", "align": "left", "baseline": "middle"},
 "encoding": {"x": {"datum": 5.85}, "y": {"datum": 125.4}}},
{"data": {"values": [{}]}, "mark": {"type": "text", "text": "▼", "color": "#777777", "fontSize": 7, "align": "center", "baseline": "middle"},
 "encoding": {"x": {"datum": 10.2}, "y": {"datum": 125.75}}},
{"data": {"values": [{}]}, "mark": {"type": "text", "text": "D1", "color": "#37474f", "fontSize": 9.5, "align": "left", "baseline": "middle"},
 "encoding": {"x": {"datum": 17.3}, "y": {"datum": 125.45}}},
{"data": {"values": [{}]}, "mark": {"type": "text", "text": "▼", "color": "#777777", "fontSize": 7, "align": "center", "baseline": "middle"},
 "encoding": {"x": {"datum": 22.3}, "y": {"datum": 125.75}}}
]
},
{
"width": 1337, "height": 230,
"layer": [
{"data": {"name": "rsi"}, "mark": {"type": "line", "color": "#2196f3", "strokeWidth": 1.2, "strokeJoin": "round"},
 "encoding": {
  "x": {"field": "i", "type": "quantitative", "scale": {"domain": [-0.862, 212.55], "nice": false, "zero": false, "padding": 0},
        "axis": {"values": [0,21,42,63,84,105,126,147,168,189,210], "grid": true, "gridColor": "#ffffff", "gridWidth": 1, "ticks": false, "domain": false, "labelExpr": "['12.09.2025','13.10.2025','11.11.2025','10.12.2025','12.01.2026','10.02.2026','11.03.2026','10.04.2026','11.05.2026','09.06.2026','06.07.2026'][round(datum.value/21)]", "labelAlign": "left", "labelOffset": 2, "labelPadding": 3, "labelColor": "#333333", "labelFontSize": 12.5, "labelFlush": false, "labelOverlap": false, "labelBound": false, "title": null}},
  "y": {"field": "r", "type": "quantitative", "scale": {"domain": [0, 100], "nice": false, "zero": false},
        "axis": {"orient": "right", "values": [0,30,70,100], "format": ".1f", "grid": false, "ticks": false, "domain": false, "labelPadding": 8, "labelColor": "#555555", "labelFontSize": 12.5, "labelFlush": true, "title": null}}
 }},
{"data": {"values": [{}]}, "mark": {"type": "rect", "color": "#ffffff"},
 "encoding": {"x": {"datum": -0.862}, "x2": {"datum": 212.55}, "y": {"datum": 0}, "y2": {"datum": 0.45}}},
{"data": {"values": [{}]}, "mark": {"type": "rect", "color": "#263238"},
 "encoding": {"x": {"datum": -0.862}, "x2": {"datum": 212.55}, "y": {"datum": 68.9}, "y2": {"datum": 71.1}}},
{"data": {"values": [{}]}, "mark": {"type": "rect", "color": "#263238"},
 "encoding": {"x": {"datum": -0.862}, "x2": {"datum": 212.55}, "y": {"datum": 28.9}, "y2": {"datum": 31.1}}},
{"data": {"values": [{}]}, "mark": {"type": "rect", "color": "#263238"},
 "encoding": {"x": {"datum": 207.9}, "x2": {"datum": 212.4}, "y": {"datum": 65.65}, "y2": {"datum": 74.35}}},
{"data": {"values": [{}]}, "mark": {"type": "rect", "color": "#263238"},
 "encoding": {"x": {"datum": 207.9}, "x2": {"datum": 212.4}, "y": {"datum": 25.65}, "y2": {"datum": 34.35}}},
{"data": {"values": [{}]}, "mark": {"type": "text", "text": "70.0", "color": "#ffffff", "fontSize": 11, "align": "center", "baseline": "middle"},
 "encoding": {"x": {"datum": 210.15}, "y": {"datum": 70}}},
{"data": {"values": [{}]}, "mark": {"type": "text", "text": "30.0", "color": "#ffffff", "fontSize": 11, "align": "center", "baseline": "middle"},
 "encoding": {"x": {"datum": 210.15}, "y": {"datum": 30}}},
{"data": {"values": [{}]}, "mark": {"type": "text", "text": "☰", "color": "#a3a3a3", "fontSize": 12, "align": "left", "baseline": "middle"},
 "encoding": {"x": {"datum": 0.1}, "y": {"datum": 3.2}}},
{"data": {"values": [{}]}, "mark": {"type": "text", "text": "✖", "color": "#a3a3a3", "fontSize": 10, "align": "left", "baseline": "middle"},
 "encoding": {"x": {"datum": 2.25}, "y": {"datum": 3.2}}},
{"data": {"values": [{}]}, "mark": {"type": "text", "text": "RSI [14] 29.2", "color": "#6b6b6b", "fontSize": 10.5, "align": "left", "baseline": "middle"},
 "encoding": {"x": {"datum": 3.9}, "y": {"datum": 3.0}}}
]
}
]
}
